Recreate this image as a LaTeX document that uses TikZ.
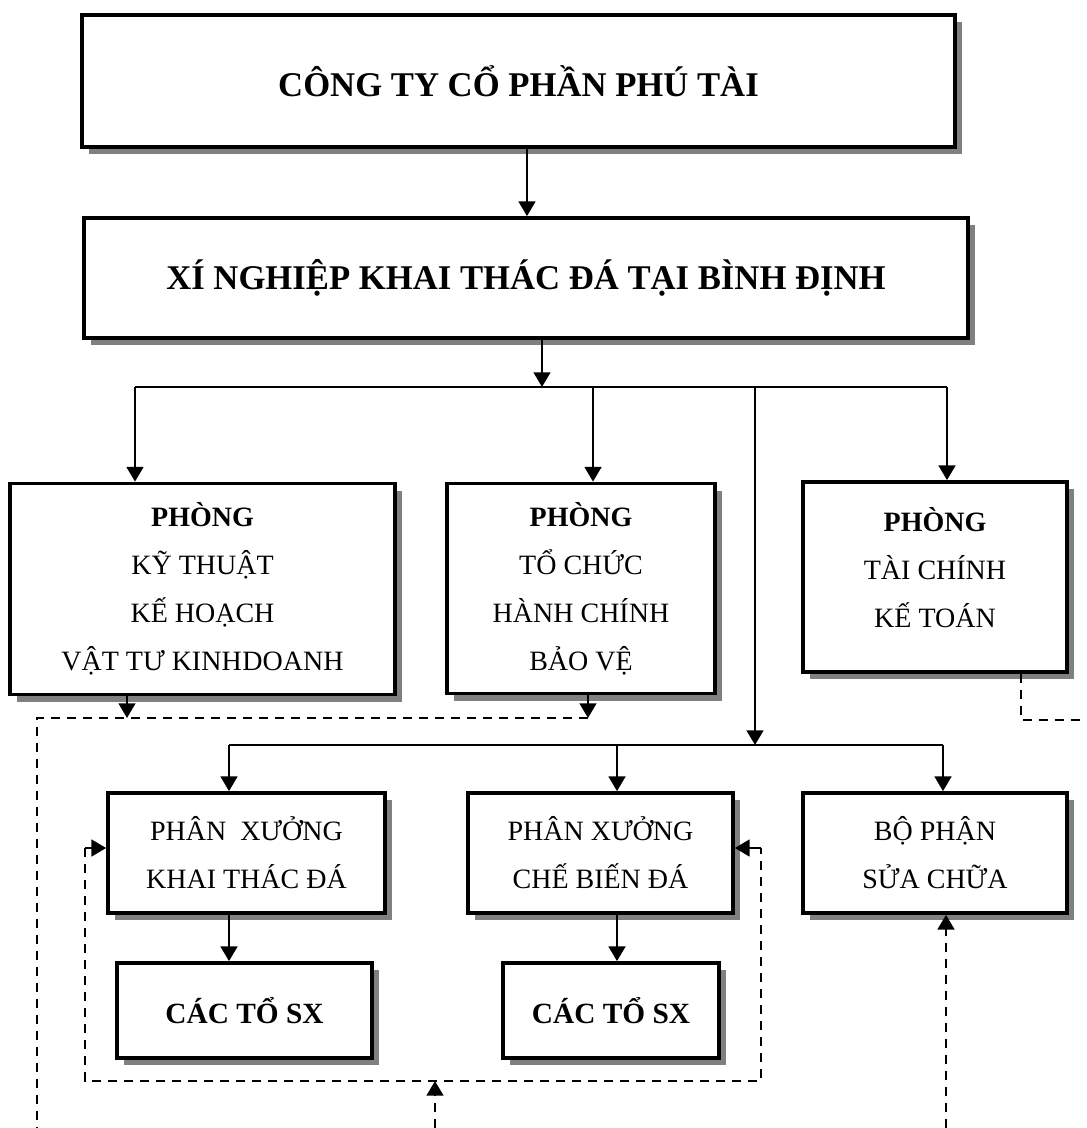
\documentclass[tikz,border=0pt]{standalone}
\usepackage{fontspec}
\setmainfont{Liberation Serif}
\usetikzlibrary{arrows.meta,shadows}
\begin{document}
\begin{tikzpicture}[x=0.75pt,y=-0.75pt,
  box/.style={draw, line width=2.8pt, fill=white, inner sep=0pt, align=center,
    drop shadow={shadow xshift=5.5pt,shadow yshift=-5.5pt,fill=black!50,opacity=1}},
  titlefont/.style={font=\fontsize{26}{31}\selectfont\bfseries},
  bodyfont/.style={font=\fontsize{21}{36}\selectfont},
  teamfont/.style={font=\fontsize{22}{26}\selectfont\bfseries},
  link/.style={line width=1.8pt},
  tip/.style={-{Triangle[width=12.5pt,length=11pt]}},
  arr/.style={link, tip},
  dline/.style={line width=1.9pt, dash pattern=on 7pt off 5pt}
]
\useasboundingbox (0,0) rectangle (1086,1128);

% boxes
\node[box, titlefont, minimum width=654.75pt, minimum height=99pt] (b1) at (518.5,81) {CÔNG TY CỔ PHẦN PHÚ TÀI};
\node[box, titlefont, minimum width=663pt, minimum height=90pt] (b2) at (526,278) {XÍ NGHIỆP KHAI THÁC ĐÁ TẠI BÌNH ĐỊNH};

\node[box, bodyfont, minimum width=288.75pt, minimum height=158.25pt] (kt) at (202.5,589)
  {\textbf{PHÒNG}\\KỸ THUẬT\\KẾ HOẠCH\\VẬT TƯ KINH\hspace{0.5pt}DOANH};
\node[box, bodyfont, minimum width=201pt, minimum height=157.5pt] (tc) at (581,588.5)
  {\textbf{PHÒNG}\\TỔ CHỨC\\HÀNH CHÍNH\\BẢO VỆ};
\node[box, bodyfont, minimum width=198pt, minimum height=142.5pt] (tck) at (935,577)
  {\textbf{PHÒNG}\\TÀI CHÍNH\\KẾ TOÁN\\[-21pt]};

\node[box, bodyfont, minimum width=207.75pt, minimum height=90pt] (px1) at (246.5,853)
  {PHÂN\ \ XƯỞNG\\KHAI THÁC ĐÁ};
\node[box, bodyfont, minimum width=198.75pt, minimum height=90pt] (px2) at (600.5,853)
  {PHÂN XƯỞNG\\CHẾ BIẾN ĐÁ};
\node[box, bodyfont, minimum width=198pt, minimum height=90pt] (bp) at (935,853)
  {BỘ PHẬN\\SỬA CHỮA};

\node[box, teamfont, minimum width=191.25pt, minimum height=71.25pt] (cts1) at (244.5,1010.5) {CÁC TỔ SX};
\node[box, teamfont, minimum width=162pt, minimum height=71.25pt] (cts2) at (611,1010.5) {CÁC TỔ SX};

% coordinates
\coordinate (a1) at (527,0);
\coordinate (bus1L) at (135,387);
\coordinate (bus1R) at (947,387);
\coordinate (j1) at (542,387);
\coordinate (j2) at (593,387);
\coordinate (j3) at (755,387);
\coordinate (bus2L) at (229,745);
\coordinate (bus2R) at (943,745);
\coordinate (k2) at (617,745);
\coordinate (k3) at (755,745);

% solid connectors
\draw[arr] (b1.south -| a1) -- (b2.north -| a1);
\draw[arr] (b2.south -| j1) -- (j1);
\draw[link] (bus1L) -- (bus1R);
\draw[arr] (bus1L) -- (kt.north -| bus1L);
\draw[arr] (j2) -- (tc.north -| j2);
\draw[arr] (bus1R) -- (tck.north -| bus1R);
\draw[arr] (j3) -- (k3);
\draw[link] (bus2L) -- (bus2R);
\draw[arr] (bus2L) -- (px1.north -| bus2L);
\draw[arr] (k2) -- (px2.north -| k2);
\draw[arr] (bus2R) -- (bp.north -| bus2R);
\draw[arr] (px1.south -| bus2L) -- (cts1.north -| bus2L);
\draw[arr] (px2.south -| k2) -- (cts2.north -| k2);

% dashed connectors
\coordinate (d1) at (127,718);
\coordinate (d2) at (588,718);
\coordinate (d0) at (37,718);
\coordinate (d0b) at (37,1128);
\draw[arr] (kt.south -| d1) -- (d1);
\draw[arr] (tc.south -| d2) -- (d2);
\draw[dline] (d2) -- (d0) -- (d0b);

\coordinate (r1) at (1021,720);
\coordinate (r2) at (1086,720);
\draw[dline] (tck.south -| r1) -- (r1) -- (r2);

\coordinate (l1) at (85,848);
\coordinate (l2) at (85,1081);
\coordinate (l3) at (761,1081);
\coordinate (l4) at (761,848);
\draw[dline] (l1) -- (l2) -- (l3) -- (l4);
\draw[arr] (l1) -- (l1 -| px1.west);
\draw[arr] (l4) -- (l4 -| px2.east);

\coordinate (u1) at (435,1128);
\coordinate (u2) at (946,1128);
\draw[dline, tip] (u1) -- (u1 |- l2);
\draw[dline, tip] (u2) -- (bp.south -| u2);
\end{tikzpicture}
\end{document}
